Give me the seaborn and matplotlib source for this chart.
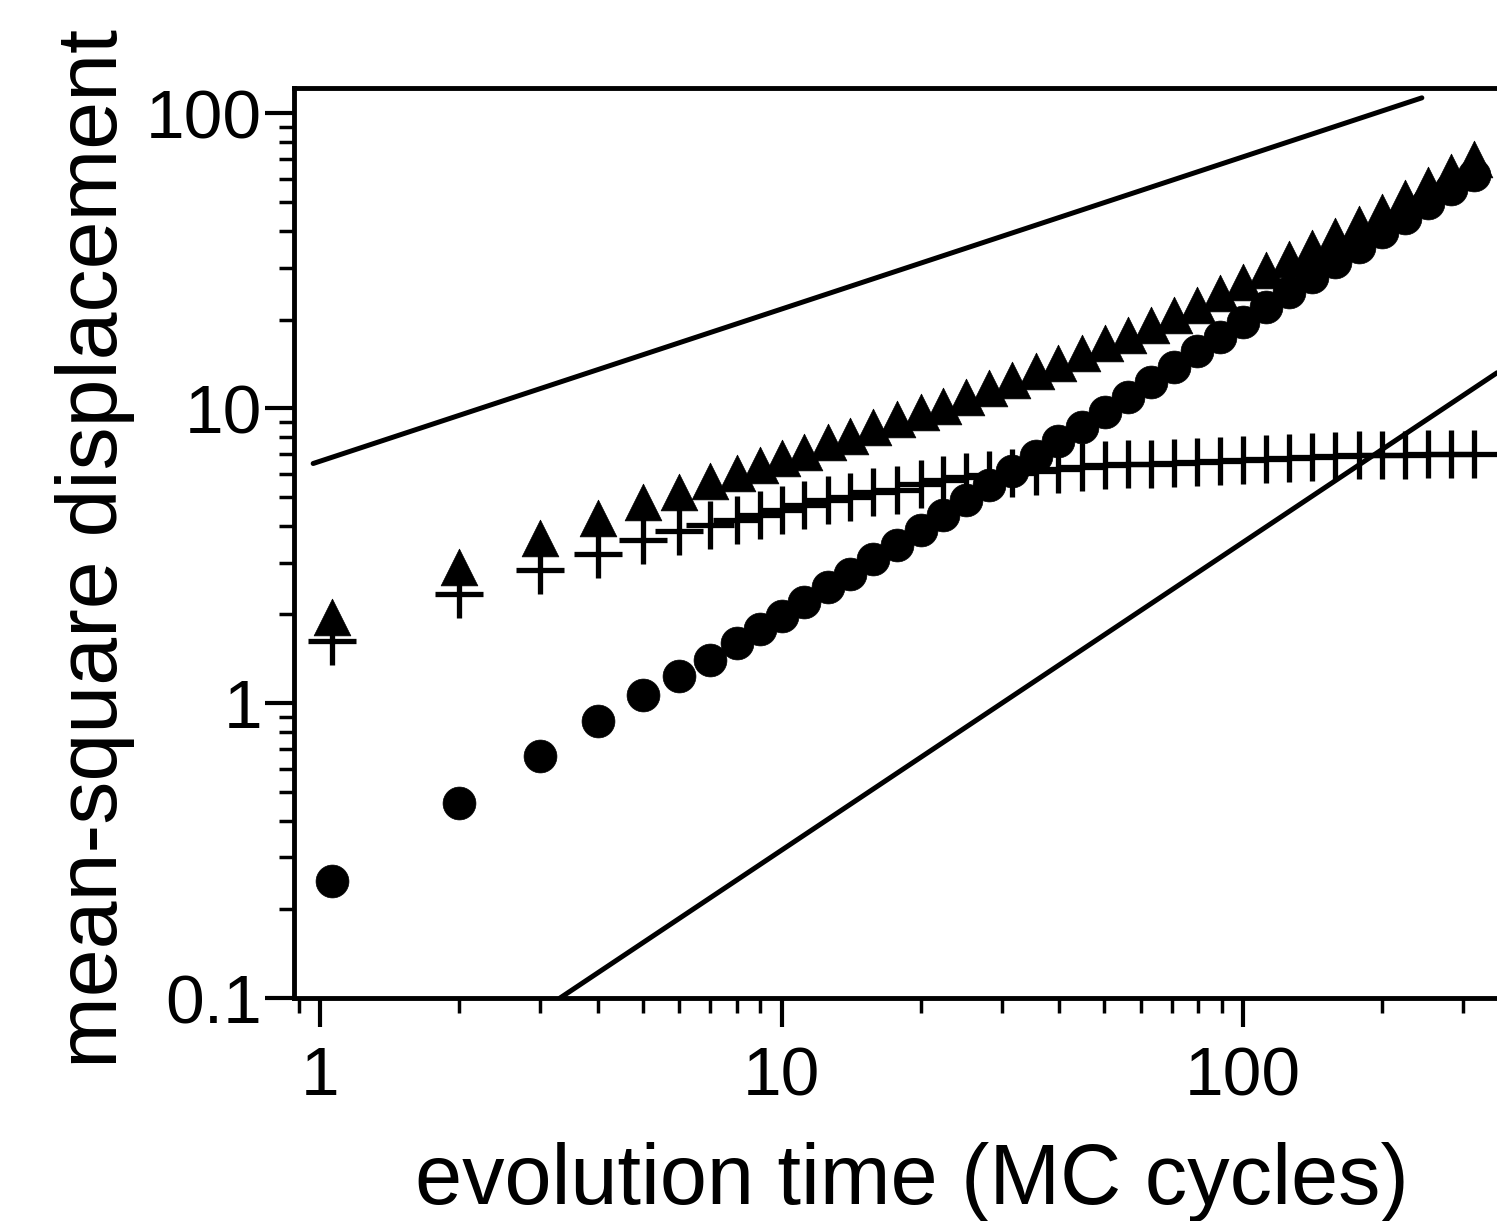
import matplotlib
matplotlib.use("Agg")
import matplotlib.pyplot as plt
import seaborn as sns
import pandas as pd
from matplotlib.ticker import LogLocator, FixedLocator, FixedFormatter, NullFormatter

# ---------------- data ----------------
time_mc = [1.06, 2, 3, 4, 5, 6, 7, 8, 9, 10,
           11.2, 12.6, 14.1, 15.8, 17.8, 20.0, 22.4, 25.1, 28.2, 31.6,
           35.5, 39.8, 44.7, 50.1, 56.2, 63.1, 70.8, 79.4, 89.1, 100,
           112, 126, 141, 158, 178, 200, 224, 251, 282, 316]

msd_triangles = [1.96, 2.89, 3.62, 4.24, 4.8, 5.19, 5.66, 6.02, 6.41, 6.8,
                 7.1, 7.67, 8.04, 8.62, 9.18, 9.69, 10.2, 10.9, 11.7, 12.5,
                 13.4, 14.2, 15.4, 16.6, 17.8, 19.2, 20.8, 22.5, 24.6, 26.8,
                 29.4, 32.0, 34.9, 38.4, 42.3, 46.5, 51.5, 57.0, 63.5, 70.3]

msd_plus = [1.62, 2.34, 2.82, 3.2, 3.57, 3.83, 4.01, 4.17, 4.34, 4.51,
            4.69, 4.88, 4.99, 5.19, 5.27, 5.53, 5.70, 5.84, 5.93, 6.05,
            6.15, 6.25, 6.33, 6.40, 6.45, 6.50, 6.55, 6.60, 6.65, 6.70,
            6.75, 6.80, 6.84, 6.88, 6.92, 6.94, 6.96, 6.98, 7.0, 7.0]

msd_circles = [0.25, 0.46, 0.66, 0.87, 1.07, 1.24, 1.40, 1.60, 1.79, 1.98,
               2.2, 2.47, 2.75, 3.08, 3.45, 3.88, 4.35, 4.88, 5.5, 6.15,
               6.9, 7.75, 8.65, 9.7, 10.9, 12.3, 13.8, 15.6, 17.5, 19.6,
               22.0, 24.8, 27.8, 31.3, 35.2, 39.5, 44.3, 49.6, 55.6, 62.0]

guide_upper_t = [0.966, 244]
guide_upper_msd = [6.5, 113]
guide_lower_t = [3.31, 355]
guide_lower_msd = [0.1, 13.2]

x_ticks = [1, 10, 100]
x_tick_labels = ["1", "10", "100"]
y_ticks = [0.1, 1, 10, 100]
y_tick_labels = ["0.1", "1", "10", "100"]

x_label = "evolution time (MC cycles)"
y_label = "mean-square displacement"

# ---------------- style ----------------
sns.set_theme(style="ticks")
plt.rcParams["font.family"] = ["Liberation Sans", "DejaVu Sans"]
plt.rcParams["axes.linewidth"] = 3.5

df = pd.DataFrame({"t": time_mc, "tri": msd_triangles,
                   "plus": msd_plus, "circ": msd_circles})

fig = plt.figure(figsize=(14.97, 12.21), dpi=100)
ax = fig.add_axes([0.1964, 0.1826, 0.8036, 0.7453])
ax.set_xscale("log")
ax.set_yscale("log")

sns.lineplot(x=guide_upper_t, y=guide_upper_msd, ax=ax, color="black", lw=3.6)
sns.lineplot(x=guide_lower_t, y=guide_lower_msd, ax=ax, color="black", lw=3.6)

sns.scatterplot(data=df, x="t", y="circ", ax=ax, marker="o", s=560,
                color="black", edgecolor="black", linewidth=0.5, zorder=3)
sns.scatterplot(data=df, x="t", y="plus", ax=ax, marker="+", s=1150,
                color="black", linewidth=3.8, zorder=4)
sns.scatterplot(data=df, x="t", y="tri", ax=ax, marker="^", s=700,
                color="black", edgecolor="black", linewidth=0.5, zorder=5)

ax.set_xlim(0.878, 355)
ax.set_ylim(0.1, 122)

ax.spines["right"].set_visible(False)
for s in ["left", "bottom", "top"]:
    ax.spines[s].set_linewidth(3.5)
    ax.spines[s].set_color("black")

ax.xaxis.set_major_locator(FixedLocator(x_ticks))
ax.xaxis.set_major_formatter(FixedFormatter(x_tick_labels))
ax.yaxis.set_major_locator(FixedLocator(y_ticks))
ax.yaxis.set_major_formatter(FixedFormatter(y_tick_labels))
ax.xaxis.set_minor_locator(LogLocator(base=10, subs=range(2, 10)))
ax.yaxis.set_minor_locator(LogLocator(base=10, subs=range(2, 10)))
ax.xaxis.set_minor_formatter(NullFormatter())
ax.yaxis.set_minor_formatter(NullFormatter())

ax.tick_params(axis="x", which="major", direction="out", length=21, width=3,
               pad=13, labelsize=50, colors="black")
ax.tick_params(axis="y", which="major", direction="out", length=21, width=3,
               pad=2, labelsize=50, colors="black")
ax.tick_params(axis="both", which="minor", direction="out", length=11,
               width=2.5, colors="black")
ax.tick_params(top=False, right=False, which="both")

ax.set_xlabel(x_label, fontsize=61, color="black")
ax.set_ylabel(y_label, fontsize=62, color="black")
ax.xaxis.set_label_coords(0.514, -0.158)
ax.yaxis.set_label_coords(-0.132, 0.4945)

ax.grid(False)
fig.savefig("out.png", dpi=100)
